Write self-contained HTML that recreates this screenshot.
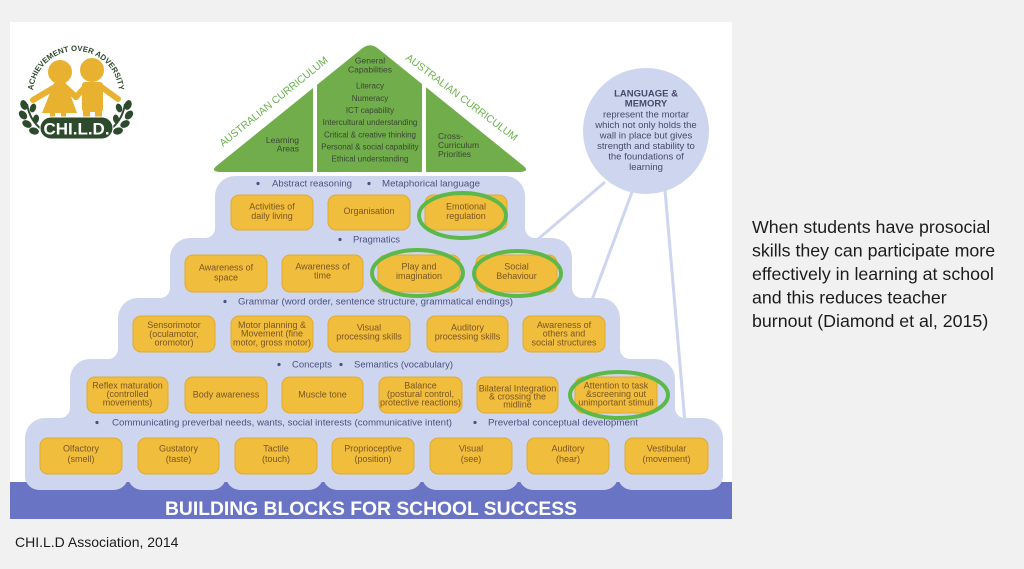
<!DOCTYPE html>
<html><head><meta charset="utf-8">
<style>
html,body{margin:0;padding:0;background:#f1f1f1;}
svg{display:block;}
</style></head><body>
<svg width="1024" height="569" viewBox="0 0 1024 569" xmlns="http://www.w3.org/2000/svg" font-family="'Liberation Sans', sans-serif">
<rect width="1024" height="569" fill="#f1f1f1"/>
<rect x="10" y="22" width="722" height="497" fill="#ffffff"/>

<!-- Logo -->
<g>
  <path id="arc" d="M33,94 A42,42 0 1,1 119,94" fill="none"/>
  <text font-size="7.8" font-weight="bold" fill="#2e4a2c"><textPath href="#arc" startOffset="50%" text-anchor="middle">ACHIEVEMENT OVER ADVERSITY</textPath></text>
  <g fill="#e8b130">
    <circle cx="60" cy="72" r="12"/>
    <circle cx="92" cy="70" r="12"/>
    <path d="M54,83 L66,83 L77,113 L42,113 Z"/>
    <rect x="82" y="82" width="21" height="30" rx="3"/>
    <rect x="50" y="110" width="5" height="14"/>
    <rect x="61" y="110" width="5" height="14"/>
    <rect x="83" y="108" width="7" height="16"/>
    <rect x="95" y="108" width="7" height="16"/>
  </g>
  <g stroke="#e8b130" stroke-width="6" stroke-linecap="round" fill="none">
    <line x1="55" y1="87" x2="33" y2="100"/>
    <line x1="65" y1="87" x2="76" y2="97"/>
    <line x1="86" y1="86" x2="76" y2="97"/>
    <line x1="100" y1="86" x2="118" y2="99"/>
  </g>
  <g fill="#2e4a2c">
    <path d="M27,104 Q30,122 44,131" stroke="#2e4a2c" stroke-width="2" fill="none"/>
    <ellipse cx="24" cy="105" rx="3.5" ry="5" transform="rotate(-20 24 105)"/>
    <ellipse cx="23" cy="115" rx="3.5" ry="5" transform="rotate(-40 23 115)"/>
    <ellipse cx="27" cy="124" rx="3.5" ry="5" transform="rotate(-60 27 124)"/>
    <ellipse cx="34" cy="131" rx="3.5" ry="5" transform="rotate(-75 34 131)"/>
    <ellipse cx="33" cy="108" rx="3" ry="4.5" transform="rotate(20 33 108)"/>
    <ellipse cx="36" cy="119" rx="3" ry="4.5" transform="rotate(10 36 119)"/>
  </g>
  <g fill="#2e4a2c" transform="translate(152,0) scale(-1,1)">
    <path d="M27,104 Q30,122 44,131" stroke="#2e4a2c" stroke-width="2" fill="none"/>
    <ellipse cx="24" cy="105" rx="3.5" ry="5" transform="rotate(-20 24 105)"/>
    <ellipse cx="23" cy="115" rx="3.5" ry="5" transform="rotate(-40 23 115)"/>
    <ellipse cx="27" cy="124" rx="3.5" ry="5" transform="rotate(-60 27 124)"/>
    <ellipse cx="34" cy="131" rx="3.5" ry="5" transform="rotate(-75 34 131)"/>
    <ellipse cx="33" cy="108" rx="3" ry="4.5" transform="rotate(20 33 108)"/>
    <ellipse cx="36" cy="119" rx="3" ry="4.5" transform="rotate(10 36 119)"/>
  </g>
  <rect x="40" y="117" width="73" height="22" rx="11" fill="#2e4a2c" stroke="#ffffff" stroke-width="1"/>
  <text x="76.5" y="134.5" font-size="17" font-weight="bold" fill="#ffffff" text-anchor="middle">CHI.L.D.</text>
</g>

<!-- Roof -->
<path d="M222,172 Q209,172 217,165.5 L362,48.5 Q370,42 378,48.5 L523,165.5 Q531,172 518,172 Z" fill="#71ad4b"/>
<rect x="313" y="60" width="4" height="115" fill="#ffffff"/>
<rect x="422" y="60" width="4" height="115" fill="#ffffff"/>
<text transform="translate(223,147) rotate(-39)" font-size="10.5" fill="#6ab04c" textLength="136" lengthAdjust="spacingAndGlyphs">AUSTRALIAN CURRICULUM</text>
<text transform="translate(405,59) rotate(37)" font-size="10.5" fill="#6ab04c" textLength="137" lengthAdjust="spacingAndGlyphs">AUSTRALIAN CURRICULUM</text>
<g fill="#394634" font-size="8.5">
  <text x="299" y="143" text-anchor="end">Learning</text>
  <text x="299" y="151.5" text-anchor="end">Areas</text>
  <text x="370" y="63.5" text-anchor="middle">General</text>
  <text x="370" y="72.5" text-anchor="middle">Capabilities</text>
  <text x="438" y="139">Cross-</text>
  <text x="438" y="148">Curriculum</text>
  <text x="438" y="157">Priorities</text>
</g>
<g fill="#394634" font-size="8" text-anchor="middle">
  <text x="370" y="88.5">Literacy</text>
  <text x="370" y="101">Numeracy</text>
  <text x="370" y="113">ICT capability</text>
  <text x="370" y="125">Intercultural understanding</text>
  <text x="370" y="137.5">Critical &amp; creative thinking</text>
  <text x="370" y="149.5">Personal &amp; social capability</text>
  <text x="370" y="161.5">Ethical understanding</text>
</g>

<!-- Circle and connectors -->
<g stroke="#ced5ef" stroke-width="3">
  <line x1="605" y1="182" x2="537" y2="240"/>
  <line x1="632" y1="192" x2="592" y2="300"/>
  <line x1="665" y1="190" x2="685" y2="423"/>
</g>
<circle cx="646" cy="131" r="63" fill="#ced5ef"/>
<g fill="#454a6a" font-size="9.5" text-anchor="middle">
  <text x="646" y="96.5" font-weight="bold">LANGUAGE &amp;</text>
  <text x="646" y="106.5" font-weight="bold">MEMORY</text>
  <text x="646" y="117.5">represent the mortar</text>
  <text x="646" y="128">which not only holds the</text>
  <text x="646" y="138.5">wall in place but gives</text>
  <text x="646" y="149">strength and stability to</text>
  <text x="646" y="159.5">the foundations of</text>
  <text x="646" y="170">learning</text>
</g>

<!-- Banner -->
<rect x="10" y="482" width="722" height="37" fill="#6a74c4"/>

<!-- Tiers -->
<g fill="#ced5ef">
  <rect x="215" y="176" width="310" height="120" rx="20"/>
  <rect x="170" y="238" width="402" height="120" rx="20"/>
  <rect x="118" y="298" width="502" height="120" rx="20"/>
  <rect x="70" y="359" width="605" height="100" rx="20"/>
  <rect x="25" y="418" width="698" height="64" rx="20"/>
  <rect x="25" y="440" width="103" height="50" rx="14"/>
  <rect x="128" y="440" width="98" height="50" rx="14"/>
  <rect x="226" y="440" width="97" height="50" rx="14"/>
  <rect x="323" y="440" width="99" height="50" rx="14"/>
  <rect x="422" y="440" width="97" height="50" rx="14"/>
  <rect x="519" y="440" width="99" height="50" rx="14"/>
  <rect x="618" y="440" width="105" height="50" rx="14"/>
  <path d="M205,238 L215,238 L215,228 A10 10 0 0 1 205,238 Z"/>
  <path d="M160,298 L170,298 L170,288 A10 10 0 0 1 160,298 Z"/>
  <path d="M108,359 L118,359 L118,349 A10 10 0 0 1 108,359 Z"/>
  <path d="M60,418 L70,418 L70,408 A10 10 0 0 1 60,418 Z"/>
  <path d="M535,238 L525,238 L525,228 A10 10 0 0 0 535,238 Z"/>
  <path d="M582,298 L572,298 L572,288 A10 10 0 0 0 582,298 Z"/>
  <path d="M630,359 L620,359 L620,349 A10 10 0 0 0 630,359 Z"/>
  <path d="M685,418 L675,418 L675,408 A10 10 0 0 0 685,418 Z"/>
</g>

<!-- Tier labels -->
<g fill="#4b5280" font-size="9.6">
  <circle cx="258" cy="183.5" r="1.6"/><text x="272" y="186.5" textLength="80" lengthAdjust="spacingAndGlyphs">Abstract reasoning</text>
  <circle cx="369" cy="183.5" r="1.6"/><text x="382" y="186.5" textLength="98" lengthAdjust="spacingAndGlyphs">Metaphorical language</text>
  <circle cx="340" cy="239.5" r="1.6"/><text x="353" y="242.5" textLength="47" lengthAdjust="spacingAndGlyphs">Pragmatics</text>
  <circle cx="225" cy="301.5" r="1.6"/><text x="238" y="304.5" textLength="275" lengthAdjust="spacingAndGlyphs">Grammar (word order, sentence structure, grammatical endings)</text>
  <circle cx="279" cy="364.5" r="1.6"/><text x="292" y="367.5" textLength="40" lengthAdjust="spacingAndGlyphs">Concepts</text>
  <circle cx="341" cy="364.5" r="1.6"/><text x="354" y="367.5" textLength="99" lengthAdjust="spacingAndGlyphs">Semantics (vocabulary)</text>
  <circle cx="97" cy="422.5" r="1.6"/><text x="112" y="425.5" textLength="340" lengthAdjust="spacingAndGlyphs">Communicating preverbal needs, wants, social interests (communicative intent)</text>
  <circle cx="475" cy="422.5" r="1.6"/><text x="488" y="425.5" textLength="150" lengthAdjust="spacingAndGlyphs">Preverbal conceptual development</text>
</g>

<!-- Boxes -->
<g fill="#f1bd3c" stroke="#e0aa33" stroke-width="1">
  <rect x="231" y="195" width="82" height="35" rx="8"/>
  <rect x="328" y="195" width="82" height="35" rx="8"/>
  <rect x="425" y="195" width="82" height="35" rx="8"/>

  <rect x="185" y="255" width="82" height="37" rx="8"/>
  <rect x="282" y="255" width="81" height="37" rx="8"/>
  <rect x="378" y="255" width="82" height="37" rx="8"/>
  <rect x="476" y="255" width="81" height="37" rx="8"/>

  <rect x="133" y="316" width="82" height="36" rx="8"/>
  <rect x="231" y="316" width="82" height="36" rx="8"/>
  <rect x="328" y="316" width="82" height="36" rx="8"/>
  <rect x="427" y="316" width="81" height="36" rx="8"/>
  <rect x="523" y="316" width="82" height="36" rx="8"/>

  <rect x="87" y="377" width="81" height="36" rx="8"/>
  <rect x="185" y="377" width="82" height="36" rx="8"/>
  <rect x="282" y="377" width="81" height="36" rx="8"/>
  <rect x="379" y="377" width="83" height="36" rx="8"/>
  <rect x="477" y="377" width="81" height="36" rx="8"/>
  <rect x="575" y="377" width="82" height="36" rx="8"/>

  <rect x="40" y="438" width="82" height="36" rx="8"/>
  <rect x="138" y="438" width="81" height="36" rx="8"/>
  <rect x="235" y="438" width="82" height="36" rx="8"/>
  <rect x="332" y="438" width="82" height="36" rx="8"/>
  <rect x="430" y="438" width="82" height="36" rx="8"/>
  <rect x="527" y="438" width="82" height="36" rx="8"/>
  <rect x="625" y="438" width="83" height="36" rx="8"/>
</g>

<g fill="#7a5626" font-size="9" text-anchor="middle">
  <text x="272" y="209.7">Activities of</text><text x="272" y="219">daily living</text>
  <text x="369" y="214">Organisation</text>
  <text x="466" y="209.7">Emotional</text><text x="466" y="219">regulation</text>

  <text x="226" y="270.7">Awareness of</text><text x="226" y="280.3">space</text>
  <text x="322.5" y="269.7">Awareness of</text><text x="322.5" y="278.7">time</text>
  <text x="419" y="269.7">Play and</text><text x="419" y="279">imagination</text>
  <text x="516.5" y="269.7">Social</text><text x="516.5" y="279">Behaviour</text>

  <text x="174" y="328">Sensorimotor</text><text x="174" y="337">(oculamotor,</text><text x="174" y="345.3">oromotor)</text>
  <text x="272" y="328">Motor planning &amp;</text><text x="272" y="336.5">Movement (fine</text><text x="272" y="345.3">motor, gross motor)</text>
  <text x="369" y="330.7">Visual</text><text x="369" y="339.7">processing skills</text>
  <text x="467.5" y="330.7">Auditory</text><text x="467.5" y="339.7">processing skills</text>
  <text x="564" y="328">Awareness of</text><text x="564" y="336.5">others and</text><text x="564" y="345.3">social structures</text>

  <text x="127.5" y="388.7">Reflex maturation</text><text x="127.5" y="397.2">(controlled</text><text x="127.5" y="405.7">movements)</text>
  <text x="226" y="397.3">Body awareness</text>
  <text x="322.5" y="397.3">Muscle tone</text>
  <text x="420.5" y="388.7">Balance</text><text x="420.5" y="397.2">(postural control,</text><text x="420.5" y="405.5">protective reactions)</text>
  <text x="517.5" y="391.3">Bilateral Integration</text><text x="517.5" y="399.7">&amp; crossing the</text><text x="517.5" y="407.5">midline</text>
  <text x="616" y="388.7">Attention to task</text><text x="616" y="397.2">&amp;screening out</text><text x="616" y="405.5">unimportant stimuli</text>

  <text x="81" y="451.5">Olfactory</text><text x="81" y="462">(smell)</text>
  <text x="178.5" y="451.5">Gustatory</text><text x="178.5" y="462">(taste)</text>
  <text x="276" y="451.5">Tactile</text><text x="276" y="462">(touch)</text>
  <text x="373" y="451.5">Proprioceptive</text><text x="373" y="462">(position)</text>
  <text x="471" y="451.5">Visual</text><text x="471" y="462">(see)</text>
  <text x="568" y="451.5">Auditory</text><text x="568" y="462">(hear)</text>
  <text x="666.5" y="451.5">Vestibular</text><text x="666.5" y="462">(movement)</text>
</g>

<!-- Green highlight ellipses -->
<g fill="none" stroke="#5db84a" stroke-width="4">
  <ellipse cx="462.5" cy="215.5" rx="43.5" ry="22.5"/>
  <ellipse cx="417.5" cy="273" rx="45.5" ry="23"/>
  <ellipse cx="517.5" cy="273.5" rx="43.5" ry="22.5"/>
  <ellipse cx="619" cy="395" rx="49" ry="23"/>
</g>

<!-- Banner text -->
<text x="165" y="515" font-size="19.5" font-weight="bold" fill="#ffffff" textLength="412" lengthAdjust="spacingAndGlyphs">BUILDING BLOCKS FOR SCHOOL SUCCESS</text>

<!-- Right paragraph -->
<g fill="#1c1c1c" font-size="17.8">
  <text x="752" y="233">When students have prosocial</text>
  <text x="752" y="256.5">skills they can participate more</text>
  <text x="752" y="280">effectively in learning at school</text>
  <text x="752" y="303.5">and this reduces teacher</text>
  <text x="752" y="327">burnout (Diamond et al, 2015)</text>
</g>

<!-- Caption -->
<text x="15" y="547" font-size="14" fill="#1c1c1c">CHI.L.D Association, 2014</text>
</svg>
</body></html>
